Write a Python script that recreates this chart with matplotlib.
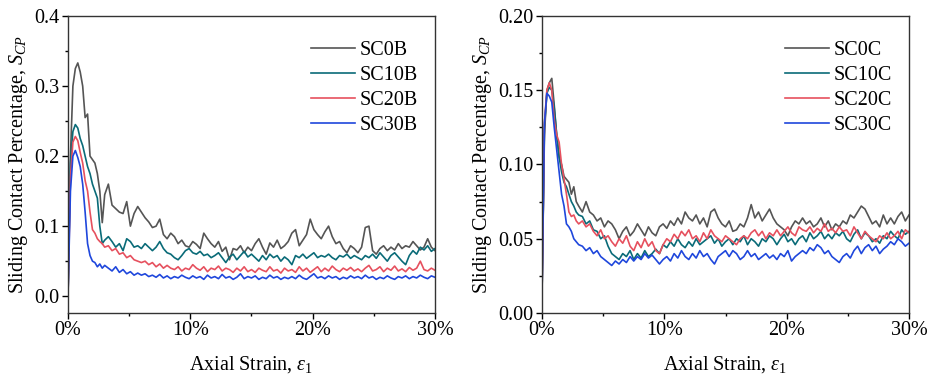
import numpy as np
import matplotlib
matplotlib.use("Agg")
import matplotlib.pyplot as plt
from matplotlib.ticker import MultipleLocator, FuncFormatter

plt.rcParams['font.family'] = ['Liberation Serif', 'DejaVu Serif']
plt.rcParams['mathtext.fontset'] = 'custom'
plt.rcParams['mathtext.rm'] = 'Liberation Serif'
plt.rcParams['mathtext.it'] = 'Liberation Serif:italic'

# strain grid (%): fine over the peak, coarser afterwards
strain = np.concatenate([np.arange(0, 3.01, 0.2), np.arange(3.3, 30.01, 0.3)])

# ---- left panel (B series) ----
sc0b = [0.0, 0.2, 0.3, 0.325, 0.333, 0.32, 0.3, 0.255, 0.26, 0.2, 0.195, 0.19, 0.175, 0.15, 0.105, 0.145,
        0.16, 0.13, 0.125, 0.12, 0.118, 0.135, 0.1, 0.118, 0.128, 0.12,
        0.112, 0.106, 0.098, 0.1, 0.11, 0.088, 0.082, 0.09, 0.085, 0.075,
        0.08, 0.072, 0.07, 0.078, 0.074, 0.068, 0.09, 0.082, 0.075, 0.07,
        0.078, 0.064, 0.07, 0.052, 0.068, 0.066, 0.072, 0.062, 0.07, 0.065,
        0.075, 0.082, 0.07, 0.06, 0.076, 0.07, 0.08, 0.068, 0.072, 0.078,
        0.09, 0.095, 0.072, 0.08, 0.088, 0.11, 0.095, 0.088, 0.082, 0.092,
        0.1, 0.085, 0.075, 0.078, 0.068, 0.062, 0.072, 0.068, 0.062, 0.07,
        0.098, 0.1, 0.065, 0.06, 0.068, 0.072, 0.065, 0.07, 0.066, 0.075,
        0.068, 0.072, 0.07, 0.078, 0.072, 0.066, 0.07, 0.082, 0.07, 0.065]
sc10b = [0.0, 0.19, 0.235, 0.245, 0.24, 0.225, 0.215, 0.2, 0.185, 0.175, 0.16, 0.15, 0.14, 0.1, 0.075, 0.08,
         0.085, 0.078, 0.07, 0.075, 0.065, 0.082, 0.078, 0.07, 0.072, 0.068,
         0.075, 0.07, 0.065, 0.07, 0.078, 0.068, 0.062, 0.06, 0.055, 0.052,
         0.058, 0.065, 0.068, 0.062, 0.06, 0.064, 0.058, 0.06, 0.055, 0.058,
         0.062, 0.055, 0.048, 0.056, 0.06, 0.052, 0.058, 0.064, 0.056, 0.06,
         0.055, 0.05, 0.058, 0.052, 0.06, 0.055, 0.058, 0.05, 0.056, 0.052,
         0.045, 0.058, 0.055, 0.06, 0.054, 0.058, 0.062, 0.055, 0.058, 0.056,
         0.06, 0.055, 0.052, 0.058, 0.056, 0.06, 0.054, 0.058, 0.055, 0.052,
         0.058, 0.055, 0.06, 0.054, 0.062, 0.056, 0.05, 0.058, 0.062, 0.056,
         0.05, 0.045, 0.058, 0.065, 0.06, 0.07, 0.066, 0.072, 0.064, 0.068]
sc20b = [0.0, 0.17, 0.22, 0.228, 0.222, 0.205, 0.19, 0.165, 0.15, 0.12, 0.095, 0.09, 0.082, 0.078, 0.075, 0.07,
         0.072, 0.065, 0.068, 0.06, 0.062, 0.055, 0.058, 0.052, 0.05, 0.048,
         0.05, 0.045, 0.048, 0.042, 0.046, 0.04, 0.044, 0.04, 0.038, 0.042,
         0.036, 0.04, 0.038, 0.045, 0.04, 0.037, 0.042, 0.035, 0.04, 0.038,
         0.043, 0.036, 0.04, 0.038, 0.034, 0.04, 0.036, 0.042, 0.035, 0.038,
         0.034, 0.04, 0.037, 0.035, 0.042, 0.036, 0.038, 0.033, 0.04, 0.036,
         0.038, 0.034, 0.042, 0.036, 0.04, 0.034, 0.038, 0.042, 0.035, 0.04,
         0.036, 0.043, 0.038, 0.035, 0.04, 0.037, 0.041, 0.036, 0.039, 0.035,
         0.04, 0.044, 0.036, 0.038, 0.042, 0.035, 0.04, 0.037, 0.043, 0.036,
         0.039, 0.035, 0.041, 0.037, 0.04, 0.05, 0.038, 0.036, 0.04, 0.037]
sc30b = [0.0, 0.15, 0.2, 0.208, 0.198, 0.185, 0.16, 0.12, 0.075, 0.058, 0.05, 0.048, 0.042, 0.046, 0.04, 0.044,
         0.04, 0.036, 0.042, 0.034, 0.038, 0.032, 0.035, 0.03, 0.033, 0.03,
         0.032, 0.028, 0.03, 0.027, 0.031, 0.026, 0.029, 0.025, 0.028, 0.026,
         0.03, 0.027, 0.025, 0.029, 0.026, 0.028, 0.024, 0.03, 0.026, 0.028,
         0.025, 0.031, 0.026, 0.028, 0.024, 0.027, 0.032, 0.025, 0.028, 0.026,
         0.029, 0.024, 0.027, 0.025, 0.03, 0.026, 0.028, 0.024, 0.027, 0.025,
         0.028, 0.025, 0.03, 0.026, 0.024, 0.028, 0.032, 0.026, 0.028, 0.025,
         0.029, 0.026, 0.028, 0.024, 0.027, 0.025, 0.029, 0.026, 0.028, 0.025,
         0.03, 0.026, 0.028, 0.024, 0.027, 0.025, 0.029, 0.026, 0.024, 0.028,
         0.026, 0.029, 0.025, 0.028, 0.026, 0.03, 0.027, 0.025, 0.029, 0.027]

# ---- right panel (C series) ----
sc0c = [0.012, 0.12, 0.15, 0.155, 0.158, 0.14, 0.12, 0.105, 0.1, 0.092, 0.09, 0.088, 0.08, 0.085, 0.075, 0.072,
        0.068, 0.075, 0.068, 0.066, 0.062, 0.064, 0.058, 0.062, 0.06, 0.056,
        0.05, 0.055, 0.058, 0.052, 0.055, 0.06, 0.056, 0.052, 0.058, 0.054,
        0.052, 0.058, 0.06, 0.057, 0.062, 0.059, 0.064, 0.06, 0.068, 0.064,
        0.062, 0.066, 0.06, 0.064, 0.058, 0.068, 0.07, 0.064, 0.06, 0.058,
        0.062, 0.055, 0.056, 0.06, 0.058, 0.064, 0.073, 0.064, 0.068, 0.062,
        0.066, 0.07, 0.064, 0.06, 0.058, 0.056, 0.052, 0.058, 0.062, 0.06,
        0.064, 0.06, 0.062, 0.058, 0.06, 0.064, 0.058, 0.062, 0.056, 0.06,
        0.058, 0.062, 0.06, 0.066, 0.064, 0.068, 0.072, 0.07, 0.065, 0.06,
        0.062, 0.058, 0.066, 0.06, 0.064, 0.06, 0.065, 0.068, 0.062, 0.066]
sc10c = [0.012, 0.125, 0.148, 0.152, 0.15, 0.138, 0.12, 0.105, 0.095, 0.088, 0.085, 0.08, 0.075, 0.072, 0.068, 0.066,
         0.065, 0.06, 0.062, 0.056, 0.055, 0.05, 0.052, 0.045, 0.04, 0.038,
         0.036, 0.04, 0.038, 0.042, 0.036, 0.04, 0.037, 0.042, 0.038, 0.04,
         0.043, 0.04, 0.046, 0.044, 0.048, 0.045, 0.05, 0.046, 0.044, 0.048,
         0.045, 0.05, 0.046, 0.048, 0.05, 0.052, 0.047, 0.05, 0.045, 0.048,
         0.05, 0.046, 0.05, 0.048, 0.052, 0.046, 0.05, 0.048, 0.045, 0.05,
         0.048, 0.052, 0.05, 0.046, 0.05, 0.053, 0.048, 0.05, 0.046, 0.05,
         0.052, 0.048, 0.054, 0.05, 0.052, 0.055, 0.05, 0.053, 0.05, 0.054,
         0.052, 0.055, 0.05, 0.048, 0.053, 0.056, 0.05, 0.054, 0.052, 0.048,
         0.05, 0.047, 0.052, 0.05, 0.055, 0.052, 0.05, 0.056, 0.053, 0.055]
sc20c = [0.012, 0.128, 0.15, 0.155, 0.15, 0.13, 0.12, 0.115, 0.1, 0.09, 0.08, 0.068, 0.065, 0.066, 0.062, 0.06,
         0.062, 0.058, 0.06, 0.055, 0.052, 0.056, 0.05, 0.052, 0.048, 0.045,
         0.05, 0.047, 0.052, 0.045, 0.042, 0.048, 0.044, 0.05, 0.045, 0.048,
         0.042, 0.04, 0.046, 0.05, 0.048, 0.053, 0.05, 0.055, 0.052, 0.056,
         0.05, 0.052, 0.048, 0.054, 0.05, 0.056, 0.052, 0.05, 0.048, 0.052,
         0.05, 0.048, 0.046, 0.05, 0.052, 0.05, 0.054, 0.056, 0.052, 0.055,
         0.05, 0.054, 0.052, 0.056, 0.052, 0.055, 0.058, 0.054, 0.052, 0.058,
         0.056, 0.055, 0.058, 0.054, 0.057, 0.055, 0.06, 0.055, 0.057, 0.054,
         0.058, 0.055, 0.056, 0.052, 0.058, 0.054, 0.05, 0.055, 0.052, 0.05,
         0.048, 0.052, 0.05, 0.054, 0.05, 0.052, 0.055, 0.05, 0.056, 0.054]
sc30c = [0.012, 0.128, 0.148, 0.146, 0.142, 0.125, 0.11, 0.095, 0.08, 0.072, 0.06, 0.058, 0.055, 0.05, 0.048, 0.046,
         0.045, 0.042, 0.044, 0.04, 0.042, 0.038, 0.036, 0.034, 0.032, 0.035,
         0.033, 0.036, 0.034, 0.038, 0.035, 0.038, 0.036, 0.04, 0.037, 0.039,
         0.036, 0.033, 0.036, 0.038, 0.035, 0.04, 0.037, 0.042, 0.038, 0.036,
         0.04, 0.037, 0.042, 0.038, 0.04, 0.036, 0.033, 0.038, 0.04, 0.042,
         0.038, 0.042, 0.04, 0.036, 0.038, 0.042, 0.038, 0.04, 0.036, 0.038,
         0.04, 0.037, 0.039, 0.036, 0.04, 0.038, 0.042, 0.035, 0.038, 0.04,
         0.042, 0.04, 0.044, 0.042, 0.046, 0.044, 0.04, 0.042, 0.038, 0.036,
         0.034, 0.038, 0.04, 0.037, 0.042, 0.045, 0.04, 0.044, 0.046, 0.042,
         0.045, 0.04, 0.043, 0.045, 0.048, 0.046, 0.05, 0.048, 0.045, 0.047]

colors = ['#555555', '#0a6b78', '#e6505e', '#1f47dc']
left_series = [('SC0B', sc0b), ('SC10B', sc10b), ('SC20B', sc20b), ('SC30B', sc30b)]
right_series = [('SC0C', sc0c), ('SC10C', sc10c), ('SC20C', sc20c), ('SC30C', sc30c)]

fig = plt.figure(figsize=(9.28, 3.82), dpi=100)
ax1 = fig.add_axes([68/928, 1-313/382, 367/928, 297/382])
ax2 = fig.add_axes([542/928, 1-313/382, 367/928, 297/382])

pct = FuncFormatter(lambda v, p: f'{v:.0f}%')
fs = 14.5

for ax, series, ylim, major, minor, fmt in [
        (ax1, left_series, (-0.024, 0.4), 0.1, 0.05, '{:.1f}'),
        (ax2, right_series, (0.0, 0.2), 0.05, 0.025, '{:.2f}')]:
    for (name, vals), c in zip(series, colors):
        ax.plot(strain, vals, color=c, lw=1.2, label=name)
    ax.set_xlim(0, 30)
    ax.set_ylim(*ylim)
    ax.xaxis.set_major_locator(MultipleLocator(10))
    ax.xaxis.set_minor_locator(MultipleLocator(5))
    ax.xaxis.set_major_formatter(pct)
    ax.yaxis.set_major_locator(MultipleLocator(major))
    ax.yaxis.set_minor_locator(MultipleLocator(minor))
    ax.yaxis.set_major_formatter(FuncFormatter(lambda v, p, f=fmt: f.format(v)))
    ax.tick_params(which='major', direction='out', length=4, width=1, labelsize=fs, pad=2)
    ax.tick_params(which='minor', direction='out', length=2.5, width=1)
    for s in ax.spines.values():
        s.set_color('#333333')
        s.set_linewidth(1.0)
    ax.set_xlabel(r'Axial Strain, $\varepsilon_1$', fontsize=fs, labelpad=10)
    ax.set_ylabel(r'Sliding Contact Percentage, $S_{CP}$', fontsize=fs, labelpad=3)
    ax.legend(loc='upper right', frameon=False, fontsize=fs, handlelength=2.2,
              handletextpad=0.25, labelspacing=0.3, bbox_to_anchor=(1.004, 0.978))

fig.savefig('out.png', dpi=100)
